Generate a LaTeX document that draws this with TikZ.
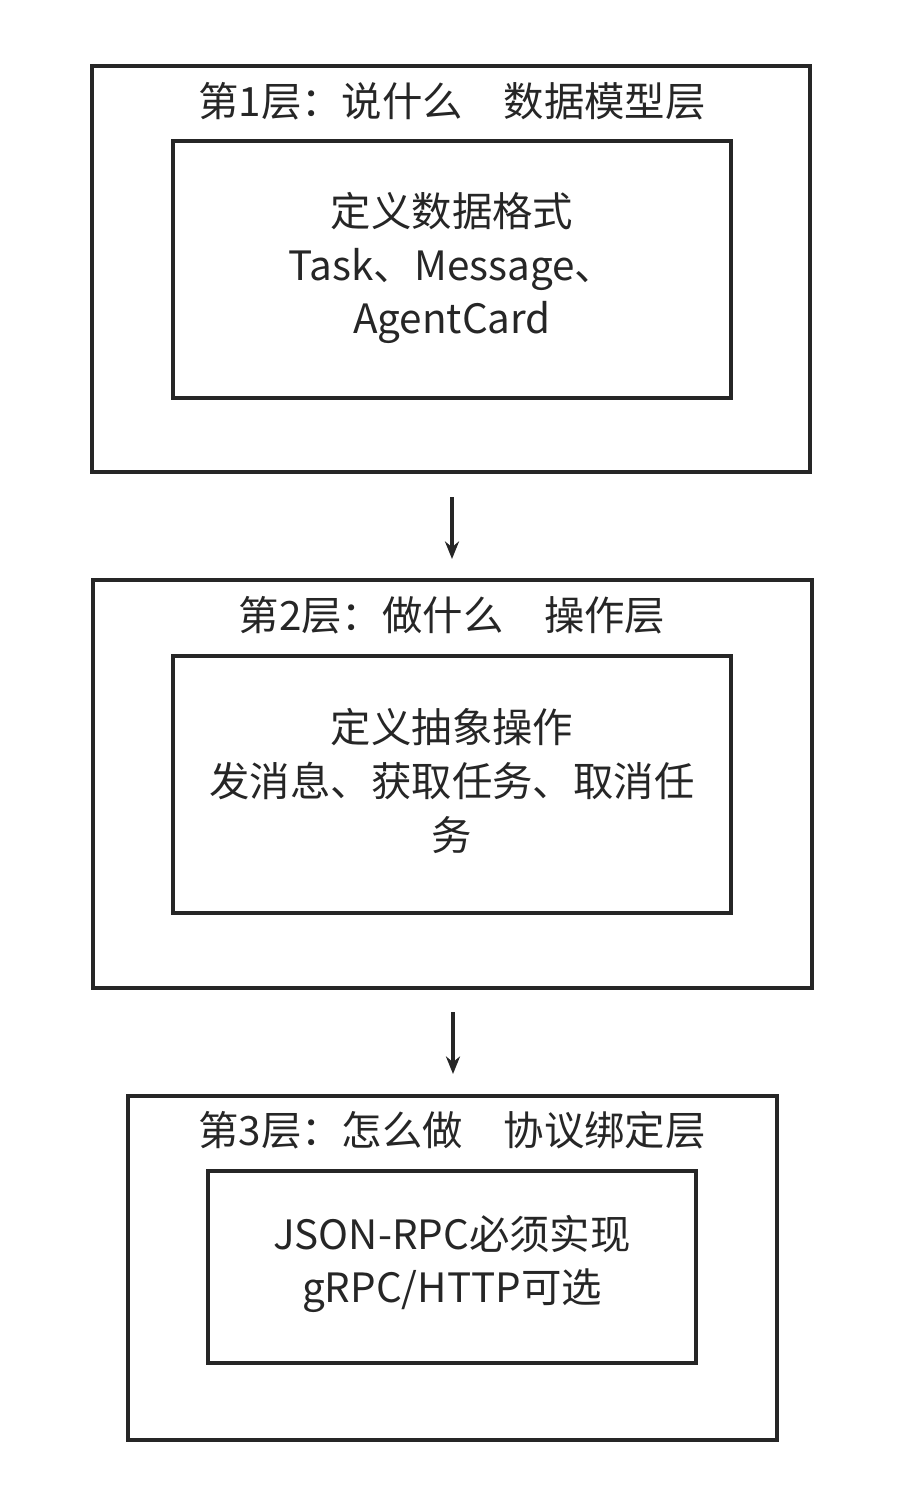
\documentclass[tikz,border=0pt]{standalone}
\usepackage{fontspec}
\setmainfont{Noto Sans CJK SC}
\usetikzlibrary{arrows.meta}
\begin{document}
\begin{tikzpicture}[x=0.02cm,y=-0.02cm,
  box/.style={draw=black!85,line width=2pt},
  ttl/.style={font=\fontsize{23}{26}\selectfont,text=black!85},
  txt/.style={font=\fontsize{23}{30.5}\selectfont,text=black!85,align=center},
  arr/.style={-{Stealth[length=10pt,width=8pt]},line width=2pt,draw=black!85}]
\useasboundingbox (0,0) rectangle (904,1510);
\draw[box] (92,66) rectangle (810,472);
\draw[box] (173,141) rectangle (731,398);
\node[ttl] (t1) at (452,101) {第1层：说什么\quad 数据模型层};
\node[txt] (c1) at (452,268) {定义数据格式\\Task、Message、\\AgentCard};
\coordinate (a1s) at (452,497); \coordinate (a1e) at (452,559);
\draw[arr] (a1s) -- (a1e);
\draw[box] (93,580) rectangle (812,988);
\draw[box] (173,656) rectangle (731,913);
\node[ttl] (t2) at (452,615) {第2层：做什么\quad 操作层};
\node[txt] (c2) at (452,781) {定义抽象操作\\发消息、获取任务、取消任\\务};
\coordinate (a2s) at (453,1012); \coordinate (a2e) at (453,1074);
\draw[arr] (a2s) -- (a2e);
\draw[box] (128,1096) rectangle (777,1440);
\draw[box] (208,1171) rectangle (696,1363);
\node[ttl] (t3) at (452,1130) {第3层：怎么做\quad 协议绑定层};
\node[txt] (c3) at (452,1264) {JSON-RPC必须实现\\gRPC/HTTP可选};
\end{tikzpicture}
\end{document}
